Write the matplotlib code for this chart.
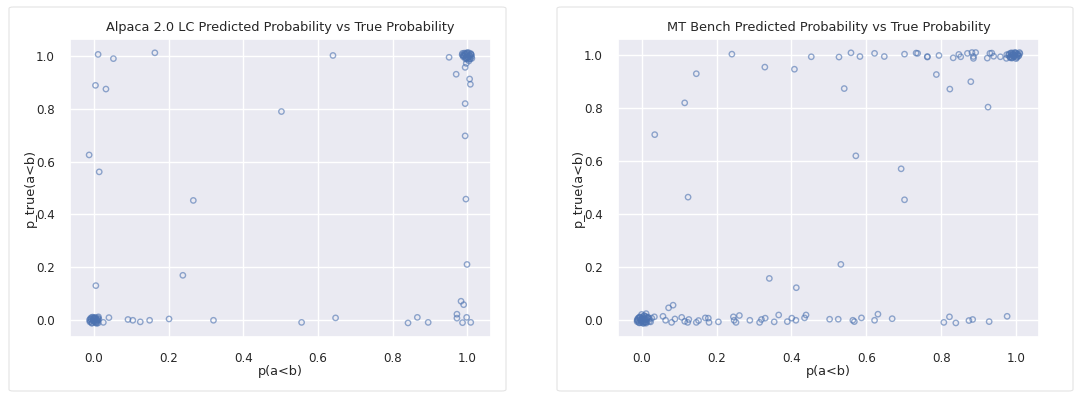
import matplotlib
matplotlib.use('Agg')
import matplotlib.pyplot as plt
from matplotlib.patches import FancyBboxPatch
import seaborn as sns

# ── data: predicted p(a<b) vs true p(a<b) ──
# Alpaca 2.0 LC
alpaca_pred = [
    # cluster near (0, 0)
    -0.011, -0.008, -0.005, -0.002, 0.001, 0.004, 0.007, 0.010, 0.012,
    -0.010, -0.006, -0.003, 0.000, 0.003, 0.006, 0.009, 0.011, -0.009,
    -0.004, 0.002, 0.005, 0.008, -0.007, -0.001, 0.004, 0.011, -0.012,
    0.000, 0.007, 0.013,
    # low row
    0.025, 0.040, 0.091, 0.104, 0.124, 0.149, 0.201, 0.320, 0.556, 0.647,
    0.841, 0.866, 0.895, 0.972, 0.972, 0.983, 0.990, 0.987, 0.998, 1.009,
    # middle / scattered
    0.005, 0.238, 0.266, 0.014, -0.013, 0.502, 0.999, 0.996, 0.994, 0.994,
    1.008, 1.006, 0.970, 0.994, 0.951, 1.004, 0.997,
    # top row
    0.011, 0.052, 0.163, 0.004, 0.032, 0.640,
    # cluster near (1, 1)
    0.986, 0.989, 0.992, 0.995, 0.998, 1.001, 1.004, 1.007, 1.010, 1.012,
    0.987, 0.991, 0.994, 0.997, 1.000, 1.003, 1.006, 1.009, 1.011, 0.988,
    0.993, 0.996, 0.999, 1.002, 1.005, 1.008, 0.990, 1.001, 1.010, 0.995,
]
alpaca_true = [
    -0.006, 0.004, -0.010, 0.008, -0.003, 0.011, -0.008, 0.002, 0.013,
    0.006, -0.011, 0.001, 0.010, -0.007, 0.005, -0.002, 0.009, -0.004,
    0.012, 0.007, -0.009, 0.000, 0.010, -0.005, 0.003, -0.010, 0.001,
    0.006, -0.012, 0.004,
    -0.008, 0.010, 0.003, 0.000, -0.006, 0.000, 0.005, 0.000, -0.008, 0.009,
    -0.010, 0.011, -0.008, 0.023, 0.008, 0.072, 0.059, -0.009, 0.011, -0.008,
    0.131, 0.170, 0.453, 0.561, 0.625, 0.789, 0.211, 0.458, 0.697, 0.819,
    0.892, 0.912, 0.930, 0.956, 0.994, 0.980, 0.971,
    1.005, 0.989, 1.011, 0.888, 0.874, 1.001,
    1.004, 0.996, 1.010, 0.988, 1.007, 0.993, 1.011, 0.998, 1.005, 0.990,
    1.009, 0.999, 1.003, 0.991, 1.012, 0.995, 0.987, 1.008, 0.997, 1.001,
    1.006, 0.992, 1.010, 0.994, 1.002, 0.989, 1.000, 0.986, 1.004, 1.008,
]

# MT Bench
mt_pred = [
    # cluster near (0, 0)
    -0.012, -0.009, -0.006, -0.003, 0.000, 0.003, 0.006, 0.009, 0.012, 0.015,
    -0.011, -0.008, -0.004, -0.001, 0.002, 0.005, 0.008, 0.011, 0.014, 0.018,
    -0.010, -0.007, -0.002, 0.001, 0.004, 0.007, 0.010, 0.013, 0.017, 0.021,
    -0.005, 0.000, 0.006, 0.012, 0.020, 0.024, 0.027, -0.012, 0.003, 0.009,
    # low row
    0.034, 0.057, 0.064, 0.080, 0.089, 0.107, 0.115, 0.126, 0.123, 0.146,
    0.152, 0.170, 0.180, 0.178, 0.205, 0.245, 0.247, 0.252, 0.261, 0.289,
    0.315, 0.320, 0.330, 0.354, 0.366, 0.389, 0.401, 0.412, 0.435, 0.439,
    0.502, 0.525, 0.564, 0.568, 0.587, 0.622, 0.631, 0.669, 0.807, 0.822,
    0.839, 0.874, 0.884, 0.928, 0.976, 0.072, 0.084,
    # middle / scattered
    0.532, 0.341, 0.413, 0.124, 0.035, 0.572, 0.693, 0.702, 0.115, 0.925,
    0.541, 0.823, 0.879, 0.787, 0.146, 0.408, 0.329,
    # top row
    0.241, 0.453, 0.527, 0.559, 0.583, 0.622, 0.648, 0.702, 0.733, 0.737,
    0.763, 0.763, 0.794, 0.832, 0.847, 0.852, 0.870, 0.882, 0.886, 0.886,
    0.892, 0.923, 0.930, 0.935, 0.940, 0.958, 0.974, 0.975,
    # cluster near (1, 1)
    0.980, 0.983, 0.986, 0.989, 0.992, 0.995, 0.998, 1.001, 1.004, 1.007,
    0.981, 0.985, 0.988, 0.991, 0.994, 0.997, 1.000, 1.003, 1.006, 1.010,
    0.984, 0.987, 0.990, 0.993, 0.996, 0.999, 1.002, 1.005, 1.009, 0.992,
]
mt_true = [
    -0.005, 0.008, -0.010, 0.003, -0.002, 0.012, -0.007, 0.006, -0.011, 0.010,
    0.004, -0.008, 0.011, -0.004, 0.007, -0.012, 0.001, 0.014, -0.006, 0.009,
    -0.001, 0.010, -0.009, 0.005, -0.003, 0.018, -0.007, 0.002, 0.012, -0.004,
    0.013, 0.022, 0.016, 0.025, 0.004, -0.006, 0.008, 0.000, -0.010, -0.008,
    0.013, 0.015, 0.000, -0.008, 0.005, 0.011, -0.004, 0.003, -0.008, -0.008,
    -0.001, 0.009, -0.008, 0.008, -0.006, 0.013, 0.000, -0.008, 0.018, 0.000,
    -0.008, 0.003, 0.008, -0.006, 0.020, -0.005, 0.008, 0.000, 0.009, 0.020,
    0.004, 0.004, 0.000, -0.005, 0.009, 0.000, 0.023, 0.006, -0.008, 0.013,
    -0.010, -0.001, 0.003, -0.005, 0.015, 0.047, 0.057,
    0.211, 0.158, 0.123, 0.465, 0.701, 0.621, 0.572, 0.455, 0.821, 0.805,
    0.875, 0.873, 0.901, 0.928, 0.931, 0.948, 0.956,
    1.005, 0.995, 0.994, 1.010, 0.996, 1.008, 0.996, 1.005, 1.009, 1.008,
    0.996, 0.994, 1.000, 0.991, 1.004, 0.995, 1.008, 1.011, 0.996, 0.989,
    1.011, 0.990, 1.008, 1.009, 0.997, 0.995, 0.989, 1.003,
    1.001, 0.994, 1.008, 0.990, 1.005, 0.997, 1.010, 0.993, 1.004, 0.999,
    1.006, 0.991, 1.002, 1.009, 0.996, 1.011, 0.988, 1.003, 0.998, 1.007,
    0.995, 1.010, 0.992, 1.004, 1.000, 1.008, 0.993, 1.006, 1.011, 0.997,
]

panels = [
    ('Alpaca 2.0 LC Predicted Probability vs True Probability', alpaca_pred, alpaca_true),
    ('MT Bench Predicted Probability vs True Probability', mt_pred, mt_true),
]

sns.set_theme(style='darkgrid')
plt.rcParams['font.family'] = ['DejaVu Sans']

fig = plt.figure(figsize=(10.8, 3.99), dpi=100)
fig.patch.set_facecolor('white')

# light frames around each subplot (as in the notebook export)
frames = [(9, 7, 497, 384), (557, 7, 516, 384)]
for fx, fy, fw, fh in frames:
    fig.patches.append(FancyBboxPatch(
        (fx / 1080, 1 - (fy + fh) / 399), fw / 1080, fh / 399,
        boxstyle='round,pad=0,rounding_size=0.004', transform=fig.transFigure,
        facecolor='white', edgecolor='#e4e4e4', linewidth=0.8, zorder=-10))

axes_pos = [(70, 421), (618, 421)]
for (title, xs, ys), (ax_x, ax_w) in zip(panels, axes_pos):
    ax = fig.add_axes([ax_x / 1080, (399 - 337) / 399, ax_w / 1080, (337 - 39) / 399])
    ax.scatter(xs, ys, s=15, facecolors='none', edgecolors='#4C72B0',
               linewidths=1.0, alpha=0.6)
    ax.set_title(title, fontsize=9.3, pad=6)
    ax.set_xlabel('p(a<b)', fontsize=9.3, labelpad=0)
    ax.set_ylabel('p_true(a<b)', fontsize=9.3, labelpad=-1)
    ax.set_xticks([0, 0.2, 0.4, 0.6, 0.8, 1.0])
    ax.set_yticks([0, 0.2, 0.4, 0.6, 0.8, 1.0])
    ax.tick_params(labelsize=8.6, pad=5)

fig.savefig('out.png', dpi=100)
